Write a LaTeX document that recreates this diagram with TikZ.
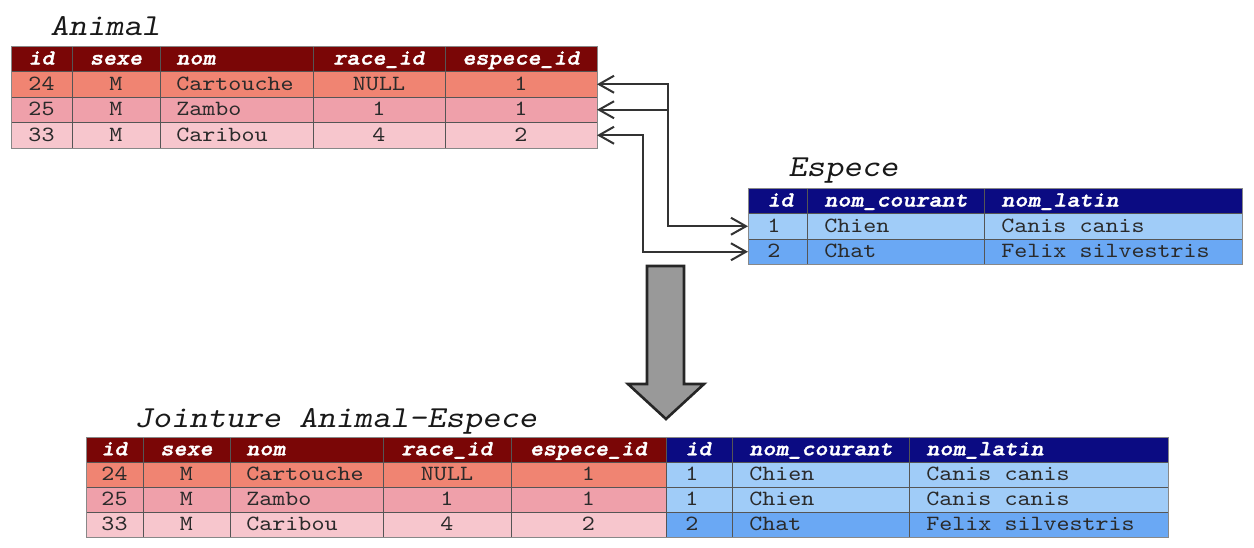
\documentclass[tikz,border=0pt]{standalone}
\usepackage{fontspec}
\newfontfamily\cour{lmmono10-regular}[Extension=.otf, FakeStretch=1.143, ItalicFont=lmmonoslant10-regular, BoldFont=lmmonolt10-bold, BoldItalicFont=lmmonolt10-boldoblique, BoldItalicFeatures={FakeBold=1.6}]
\usetikzlibrary{arrows.meta}
\definecolor{redhdr}{HTML}{7A0606}
\definecolor{redA}{HTML}{F08472}
\definecolor{redB}{HTML}{EFA0AA}
\definecolor{redC}{HTML}{F7C6CD}
\definecolor{bluehdr}{HTML}{0B0B82}
\definecolor{blueA}{HTML}{A0CCF8}
\definecolor{blueB}{HTML}{6AA8F4}
\definecolor{txt}{HTML}{2A2A2A}
\definecolor{gridc}{HTML}{555555}
\definecolor{linkc}{HTML}{333333}
\definecolor{arrowgray}{HTML}{999999}
\begin{document}
\begin{tikzpicture}[x=0.5pt,y=-0.5pt,
  ttl/.style={font=\cour\itshape\fontsize{15.25}{18}\selectfont, anchor=base west, inner sep=0, text=black!90},
  cellc/.style={font=\cour\fontsize{10.85}{13}\selectfont, text=txt, inner sep=0, text height=7.4pt, text depth=1.6pt, anchor=center},
  celll/.style={cellc, anchor=west},
  hdrc/.style={cellc, text=white, font=\cour\bfseries\itshape\fontsize{10.85}{13}\selectfont},
  hdrl/.style={hdrc, anchor=west},
  band/.style={inner sep=0, outer sep=0, anchor=north west, draw=none},
  gridline/.style={draw=gridc, line width=0.5pt},
  fkboth/.style={draw=linkc, line width=1pt, {Straight Barb[length=7.5pt,width=8.5pt]}-{Straight Barb[length=7.5pt,width=8.5pt]}},
  fkstart/.style={draw=linkc, line width=1pt, {Straight Barb[length=7.5pt,width=8.5pt]}-},
  bigarrow/.style={fill=arrowgray, draw=black!85, line width=1.3pt, line join=miter}
]
\useasboundingbox (0,0) rectangle (1254,547);

% ---------------- Animal ----------------
\node[ttl] (tAnimal) at (50,35) {Animal};
\node[band, fill=redhdr, minimum width=293pt, minimum height=12.75pt] (ah)  at (11,46)   {};
\node[band, fill=redA,   minimum width=293pt, minimum height=12.75pt] (ar1) at (11,71.5) {};
\node[band, fill=redB,   minimum width=293pt, minimum height=12.75pt] (ar2) at (11,97)   {};
\node[band, fill=redC,   minimum width=293pt, minimum height=12.75pt] (ar3) at (11,122.5) {};
\foreach \x in {72,160,313,445} \draw[gridline] (\x,46) -- (\x,148);
\foreach \y in {71.5,97,122.5} \draw[gridline] (11,\y) -- (597,\y);
\draw[gridline, draw=gridc!70] (11,46) rectangle (597,148);

\node[hdrc] (ah1) at (41.5,58.75) {id};
\node[hdrc] (ah2) at (116,58.75) {sexe};
\node[hdrl] (ah3) at (176,58.75) {nom};
\node[hdrc] (ah4) at (379,58.75) {race\_id};
\node[hdrc] (ah5) at (521,58.75) {espece\_id};

\node[cellc] (a11) at (41.5,84.25) {24};
\node[cellc] (a12) at (116,84.25) {M};
\node[celll] (a13) at (176,84.25) {Cartouche};
\node[cellc] (a14) at (379,84.25) {NULL};
\node[cellc] (a15) at (521,84.25) {1};

\node[cellc] (a21) at (41.5,109.75) {25};
\node[cellc] (a22) at (116,109.75) {M};
\node[celll] (a23) at (176,109.75) {Zambo};
\node[cellc] (a24) at (379,109.75) {1};
\node[cellc] (a25) at (521,109.75) {1};

\node[cellc] (a31) at (41.5,135.25) {33};
\node[cellc] (a32) at (116,135.25) {M};
\node[celll] (a33) at (176,135.25) {Caribou};
\node[cellc] (a34) at (379,135.25) {4};
\node[cellc] (a35) at (521,135.25) {2};

% ---------------- Espece ----------------
\node[ttl] (tEspece) at (788,176) {Espece};
\node[band, fill=bluehdr, minimum width=247pt, minimum height=12.75pt] (eh)  at (748,188)   {};
\node[band, fill=blueA,   minimum width=247pt, minimum height=12.75pt] (er1) at (748,213.5) {};
\node[band, fill=blueB,   minimum width=247pt, minimum height=12.75pt] (er2) at (748,239)   {};
\foreach \x in {807,984} \draw[gridline] (\x,188) -- (\x,264.5);
\foreach \y in {213.5,239} \draw[gridline] (748,\y) -- (1242,\y);
\draw[gridline, draw=gridc!70] (748,188) rectangle (1242,264.5);

\node[hdrl] (eh1) at (767,200.75) {id};
\node[hdrl] (eh2) at (824,200.75) {nom\_courant};
\node[hdrl] (eh3) at (1001,200.75) {nom\_latin};
\node[celll] (e11) at (767,226.25) {1};
\node[celll] (e12) at (824,226.25) {Chien};
\node[celll] (e13) at (1001,226.25) {Canis canis};
\node[celll] (e21) at (767,251.75) {2};
\node[celll] (e22) at (824,251.75) {Chat};
\node[celll] (e23) at (1001,251.75) {Felix silvestris};

% ---------------- links ----------------
\coordinate (kA) at (668,0);
\coordinate (kB) at (643,0);
\draw[fkboth] (ar1.east) -- (ar1.east -| kA) |- (er1.west);
\draw[fkstart] (ar2.east) -- (ar2.east -| kA);
\draw[fkboth] (ar3.east) -- (ar3.east -| kB) |- (er2.west);

% ---------------- big arrow ----------------
\draw[bigarrow] (647,266) -- (684,266) -- (684,384) -- (704,384) -- (666,419) -- (628,384) -- (647,384) -- cycle;

% ---------------- Jointure ----------------
\node[ttl] (tJoin) at (134,427) {Jointure Animal-Espece};
\node[band, fill=redhdr,  minimum width=290pt, minimum height=12.5pt] (jhr) at (86,437) {};
\node[band, fill=bluehdr, minimum width=251pt, minimum height=12.5pt] (jhb) at (666,437) {};
\node[band, fill=redA,  minimum width=290pt, minimum height=12.5pt] (j1r) at (86,462) {};
\node[band, fill=blueA, minimum width=251pt, minimum height=12.5pt] (j1b) at (666,462) {};
\node[band, fill=redB,  minimum width=290pt, minimum height=12.5pt] (j2r) at (86,487) {};
\node[band, fill=blueA, minimum width=251pt, minimum height=12.5pt] (j2b) at (666,487) {};
\node[band, fill=redC,  minimum width=290pt, minimum height=12.5pt] (j3r) at (86,512) {};
\node[band, fill=blueB, minimum width=251pt, minimum height=12.5pt] (j3b) at (666,512) {};
\foreach \x in {143,230,383,511,666,732,909} \draw[gridline] (\x,437) -- (\x,537);
\foreach \y in {462,487,512} \draw[gridline] (86,\y) -- (1168,\y);
\draw[gridline, draw=gridc!70] (86,437) rectangle (1168,537);

\node[hdrc] (jh1) at (114.5,449.5) {id};
\node[hdrc] (jh2) at (186.5,449.5) {sexe};
\node[hdrl] (jh3) at (246,449.5) {nom};
\node[hdrc] (jh4) at (447,449.5) {race\_id};
\node[hdrc] (jh5) at (588.5,449.5) {espece\_id};
\node[hdrl] (jh6) at (685,449.5) {id};
\node[hdrl] (jh7) at (749,449.5) {nom\_courant};
\node[hdrl] (jh8) at (926,449.5) {nom\_latin};

\node[cellc] (j11) at (114.5,474.5) {24};
\node[cellc] (j12) at (186.5,474.5) {M};
\node[celll] (j13) at (246,474.5) {Cartouche};
\node[cellc] (j14) at (447,474.5) {NULL};
\node[cellc] (j15) at (588.5,474.5) {1};
\node[celll] (j16) at (685,474.5) {1};
\node[celll] (j17) at (749,474.5) {Chien};
\node[celll] (j18) at (926,474.5) {Canis canis};

\node[cellc] (j21) at (114.5,499.5) {25};
\node[cellc] (j22) at (186.5,499.5) {M};
\node[celll] (j23) at (246,499.5) {Zambo};
\node[cellc] (j24) at (447,499.5) {1};
\node[cellc] (j25) at (588.5,499.5) {1};
\node[celll] (j26) at (685,499.5) {1};
\node[celll] (j27) at (749,499.5) {Chien};
\node[celll] (j28) at (926,499.5) {Canis canis};

\node[cellc] (j31) at (114.5,524.5) {33};
\node[cellc] (j32) at (186.5,524.5) {M};
\node[celll] (j33) at (246,524.5) {Caribou};
\node[cellc] (j34) at (447,524.5) {4};
\node[cellc] (j35) at (588.5,524.5) {2};
\node[celll] (j36) at (685,524.5) {2};
\node[celll] (j37) at (749,524.5) {Chat};
\node[celll] (j38) at (926,524.5) {Felix silvestris};
\end{tikzpicture}
\end{document}
